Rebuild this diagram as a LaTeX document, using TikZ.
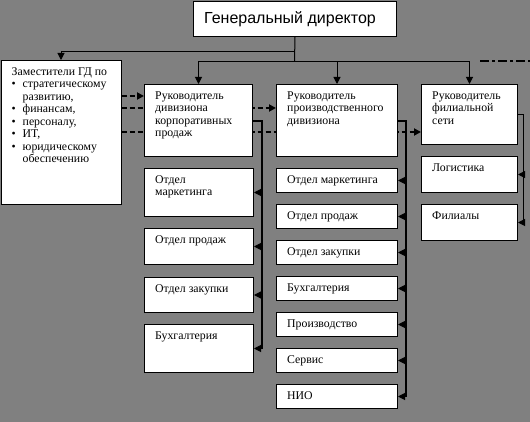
\documentclass[tikz,border=0pt]{standalone}
\usepackage{fontspec}
\setmainfont{Liberation Serif}
\newfontfamily\gdfont{Liberation Sans}
\usetikzlibrary{arrows.meta}
\pgfdeclarelayer{back}
\pgfdeclarelayer{bg}
\pgfsetlayers{back,bg,main}
\definecolor{bgc}{HTML}{808080}
\newcommand{\Bx}[6]{%
  \node[box,minimum width=#4pt,minimum height=#5pt] (#1) at (#2,#3) {};
  \node[lbl] (#1t) at ([xshift=11pt,yshift=-6pt]#1.north west) {\rule{0pt}{9pt}#6};}
\newcommand{\Bl}{\makebox[11pt][l]{•}}
\newcommand{\Bi}{\hspace*{11pt}}
\begin{document}
\begin{tikzpicture}[x=1pt,y=-1pt,
  box/.style={draw=black,fill=white,line width=1pt,inner sep=0,anchor=north west},
  lbl/.style={anchor=north west,inner sep=0,font=\fontsize{11.8}{12.5}\selectfont,align=left},
  arr/.style={-{Triangle[length=7pt,width=7pt]}},
  ln/.style={line width=1pt},
  dl/.style={line width=2pt,dash pattern=on 5pt off 3pt}]
\begin{pgfonlayer}{back}
\fill[bgc] (0,0) rectangle (530,422);
\end{pgfonlayer}
\useasboundingbox (0,0) rectangle (530,422);
% general director
\node[box,minimum width=203pt,minimum height=35pt] (gd) at (193,1) {};
\node[font=\gdfont\fontsize{16}{18}\selectfont,inner sep=0] (gdt) at ([xshift=-5pt,yshift=0pt]gd.center) {Генеральный директор};
% deputies
\Bx{dep}{0.5}{60}{120}{144}{Заместители ГД по\\
\Bl стратегическому\\\Bi развитию,\\\Bl финансам,\\\Bl персоналу,\\\Bl ИТ,\\\Bl юридическому\\\Bi обеспечению}
% heads
\Bx{cor}{144}{84}{108}{72}{Руководитель\\дивизиона\\корпоративных\\продаж}
\Bx{prod}{276}{84}{121}{72}{Руководитель\\производственного\\дивизиона}
\Bx{br}{421}{84}{96}{60}{Руководитель\\филиальной\\сети}
% left column
\Bx{ca}{144}{168}{109}{48}{Отдел\\маркетинга}
\Bx{cb}{144}{228}{109}{36}{Отдел продаж}
\Bx{cc}{144}{277}{109}{35}{Отдел закупки}
\Bx{cd}{144}{324}{109}{48}{Бухгалтерия}
% middle column
\Bx{ma}{276}{168}{121}{24}{Отдел маркетинга}
\Bx{mb}{276}{204}{121}{24}{Отдел продаж}
\Bx{mc}{276}{240}{121}{24}{Отдел закупки}
\Bx{md}{276}{276}{121}{24}{Бухгалтерия}
\Bx{me}{276}{312}{121}{24}{Производство}
\Bx{mf}{276}{348}{121}{24}{Сервис}
\Bx{mg}{276}{384}{121}{24}{НИО}
% right column
\Bx{lg}{421}{156}{96}{36}{Логистика}
\Bx{fl}{421}{204}{96}{36}{Филиалы}
% top connectors
\coordinate (j1) at (294.5,52);
\coordinate (j2) at (294.5,61.5);
\draw[ln] (gd.south) -- (j2);
\draw[ln,arr] (j1) -| (dep.north);
\draw[ln] (cor.north |- j2) -- (br.north |- j2);
\draw[ln,arr] (cor.north |- j2) -- (cor.north);
\draw[ln,arr] (prod.north |- j2) -- (prod.north);
\draw[ln,arr] (br.north |- j2) -- (br.north);
% dash-dot fragment
\coordinate (dd1) at (480,61);
\coordinate (dd2) at (531,61);
\draw[line width=2pt,dash pattern=on 9pt off 3pt on 3pt off 3pt] (dd1) -- (dd2);
% corporate division
\coordinate (cv) at (262,121);
\draw[line width=1.5pt] (cor.east |- cv) -- (cv) -- (cv |- cd.east);
\foreach \b in {ca,cb,cc,cd} \draw[ln,arr] (cv |- \b.east) -- (\b.east);
% production division
\coordinate (pv) at (406,121);
\draw[line width=2.5pt] (prod.east |- pv) -- (pv) -- (pv |- mg.east);
\foreach \b in {ma,mb,mc,md,me,mf,mg} \draw[ln,arr] (pv |- \b.east) -- (\b.east);
% branch network
\coordinate (bv) at (523,115);
\draw[ln] (br.east |- bv) -- (bv) -- (bv |- fl.east);
\foreach \b in {lg,fl} \draw[ln,arr] (bv |- \b.east) -- (\b.east);
% dashed links from deputies
\begin{pgfonlayer}{bg}
\draw[dl,arr] ([yshift=-36pt]dep.north east) -- ([yshift=-36pt]dep.north east -| cor.west);
\draw[dl,arr] ([yshift=-48pt]dep.north east) -- ([yshift=-48pt]dep.north east -| prod.west);
\draw[dl,arr] ([yshift=-72pt]dep.north east) -- ([yshift=-72pt]dep.north east -| br.west);
\end{pgfonlayer}
\end{tikzpicture}
\end{document}
